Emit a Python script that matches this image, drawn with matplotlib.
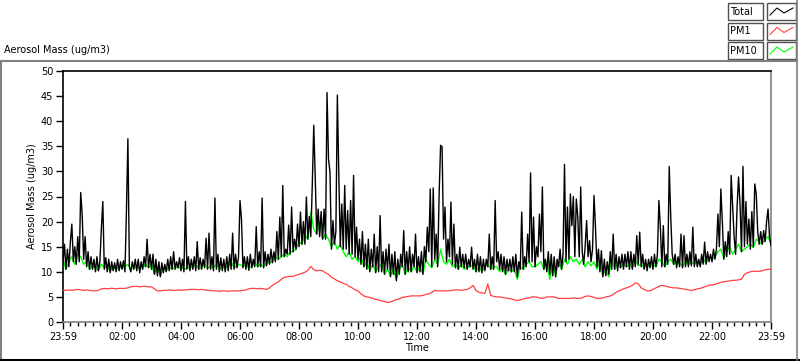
import numpy as np
import matplotlib
matplotlib.use("Agg")
import matplotlib.pyplot as plt
from matplotlib.lines import Line2D
from matplotlib.patches import Rectangle

plt.rcParams['font.family'] = ['DejaVu Sans']

# ---- data: Total sampled every 3 minutes, PM10/PM1 every 6 minutes (hours since 23:59) ----
total = [
    12, 15.5, 10.5, 14.5, 11, 16, 19.5, 12, 15, 11.5, 17, 12, 25.8, 21.4, 12.5, 17, 11, 14, 10.5, 13,
    10.5, 12.5, 10, 13, 10.2, 12, 18.5, 24, 10.5, 12.8, 10, 12.5, 9.8, 12, 10.2, 11.8, 10, 12.5, 10.2, 12,
    10.5, 12.2, 10, 22, 36.5, 11, 10, 12, 10.5, 12.5, 10.2, 12.5, 9.8, 12, 10.5, 13, 11, 16.5, 10.8, 13.5,
    10.5, 13.5, 9.5, 12.5, 9.2, 12, 9, 11.8, 9.8, 11.5, 10, 12.5, 10.2, 13, 10.5, 14, 10.5, 12, 10.8, 12.8,
    10.2, 12.5, 10, 24, 10.5, 13, 10.2, 12.5, 10.5, 13, 10.2, 16, 10.5, 12.8, 10.5, 12.5, 10.8, 16.7, 10.5, 17.7,
    10.5, 13, 10.2, 24.7, 10.5, 13.5, 10, 12.8, 10.2, 12.5, 10, 13, 10.2, 13.5, 10.5, 17.7, 10.5, 13.5, 10.8, 13,
    24.2, 20.5, 10.8, 13, 10.5, 13, 10.3, 13.5, 10.8, 12.5, 11, 19, 11, 14, 11, 24.7, 10.8, 14, 11.2, 13.5,
    11.5, 14.5, 11.8, 14, 12, 18, 12.5, 20.9, 13, 27.2, 13, 14.5, 13.5, 19.3, 13.5, 22.9, 14, 16.5, 14.5, 19.5,
    15, 21.9, 15.5, 20, 15.5, 24.9, 16.5, 21, 17, 27.2, 39.2, 28.9, 17.5, 22.5, 17, 22, 16.5, 22.5, 16.5, 45.7,
    32.5, 29.9, 14.5, 20.2, 15.5, 18, 45.2, 29.2, 15, 23.5, 14.5, 27.2, 14.5, 22.2, 13.5, 24.2, 13.5, 29.2, 13, 18.9,
    12.5, 16.5, 11.5, 18, 11, 15.5, 10.5, 16.5, 10, 14.5, 11, 17.5, 9.8, 15, 10, 21.2, 10, 14, 9.5, 14.5,
    10.5, 15.5, 9, 13.5, 9.5, 14, 8.2, 12.5, 9.5, 13.5, 11, 18.2, 9.5, 14, 10, 15, 10, 13.5, 11, 17.5,
    9.8, 13, 10, 14, 9.5, 15, 12, 18.9, 14, 26.5, 11, 26.7, 12.5, 17.5, 11, 25.5, 35.2, 34.9, 16.5, 22.9,
    12, 16.5, 13, 23.9, 11.5, 19.5, 10.8, 13.5, 10.5, 14.9, 11, 13.5, 10.8, 13.5, 10.5, 12.5, 11, 14.9, 10.5, 12.5,
    10, 13.5, 10, 13, 9.8, 12.5, 10.2, 12.5, 11, 17.5, 10.5, 13, 10.5, 24.2, 12, 14, 10.5, 13.5, 10, 13,
    9.5, 12.5, 10.2, 12.5, 10, 13, 10, 13.5, 9, 12, 10.5, 21.9, 10.5, 13, 11, 17.5, 12, 29.7, 12, 20.9,
    11, 15, 13, 21.5, 14, 26.9, 10.5, 12.5, 10, 14, 9.5, 13.5, 9.2, 13, 9, 12.5, 11, 14.5, 10.5, 13.5,
    31.4, 12, 22.9, 12.5, 25.5, 19.2, 25, 13, 24.5, 20.9, 13, 26.9, 14, 11.5, 15, 20.2, 13, 16.2, 12, 14.5,
    25.2, 18.9, 11, 14.5, 10, 14.2, 9, 12.5, 9.2, 12, 9.5, 14, 10.5, 17.5, 10.5, 13.5, 10.2, 13, 10.8, 13.5,
    10.5, 13.5, 11, 14, 10.5, 14, 10.5, 13.5, 11, 17.2, 11.5, 17.9, 11, 13.5, 10.5, 12.5, 10.2, 12.5, 10.8, 13,
    10.5, 13.5, 11, 13.5, 24.2, 18.9, 11, 19.2, 11, 13.5, 11.5, 31, 21.2, 13.5, 11.5, 13.5, 10.8, 13, 11, 17.5,
    10.8, 17.2, 11, 13.5, 11, 14, 11.2, 18.9, 11, 13.5, 11, 12.5, 11, 13.5, 11.5, 15.9, 11.5, 14, 12, 13.5,
    12, 14.5, 12.5, 14.5, 21.5, 15, 26.5, 20, 12.5, 16, 13, 18, 13.5, 29.2, 22.9, 17, 13.5, 22.9, 28.9, 23.5,
    14, 31, 15, 24, 15.5, 20.5, 14.5, 22, 15, 27.5, 25.5, 18, 15.5, 18, 15.5, 18.2, 16, 20, 22.5, 17,
    15.2,
]

pm10 = [
    12.5, 10.5, 12, 13, 11.5, 13.5, 13, 11.5, 12, 10.5,
    11, 10.8, 10.3, 11.5, 10.8, 11, 10.2, 10.8, 10.5, 11,
    10.8, 11, 11.5, 10.5, 11, 10.8, 11, 10.8, 11.5, 10.8,
    11.5, 9.5, 11, 9.2, 10.8, 10.2, 11, 10.5, 11, 10.8,
    11, 10.5, 10.8, 10.8, 11, 11.5, 10.5, 11, 11.5, 10.8,
    11, 10.8, 11.5, 10.5, 11, 10.8, 11, 12, 10.8, 11.2,
    11.5, 11, 11.5, 10.8, 11, 12, 11, 11.5, 11, 11.8,
    11.8, 12, 13, 12.5, 13, 13.5, 13, 14, 14, 14.5,
    16, 15.5, 17.5, 16.5, 21.9, 18.5, 17.5, 20, 16.5, 17.5,
    16.5, 15, 16, 14.5, 15.5, 14, 13, 14, 12.5, 13,
    12, 13, 11, 12, 10.2, 11.5, 10, 11, 11.5, 9.5,
    10.5, 9.2, 10.5, 8.5, 10.5, 11.5, 9.5, 11, 10, 11,
    10, 11, 9.5, 12.5, 11.5, 10.8, 12.5, 11.5, 14.5, 12,
    11.5, 12.5, 11, 11.5, 10.5, 11.5, 10.5, 11, 11, 11.5,
    10, 11, 10, 11, 11.5, 10.5, 11, 11, 10, 11,
    9.5, 10.5, 10, 10.5, 8.5, 11, 10.5, 11.5, 12, 11,
    11, 11.5, 12, 10.5, 12, 8.5, 11.5, 9.2, 12, 10.5,
    12.5, 11.5, 13, 12, 12.5, 11.5, 12.5, 11, 12, 11.2,
    12, 10.5, 12, 9.2, 10.5, 9, 12.5, 10.5, 11.5, 10.8,
    11.5, 11, 11.5, 10.8, 12.5, 11.2, 11.5, 10.8, 11.5, 11,
    11.5, 11, 12.5, 12, 11, 12, 12.5, 11.5, 12, 11.8,
    11, 12, 11.5, 12, 11.5, 12, 11.5, 12.5, 11.8, 13,
    12.5, 13, 14, 14.5, 12.8, 14, 15, 13.5, 14.5, 15.5,
    14, 14.5, 15, 15.5, 14.8, 16.5, 16, 15.5, 16.5, 17,
    15.5,
]

pm1 = [
    6.3, 6.3, 6.4, 6.3, 6.4, 6.5, 6.4, 6.3, 6.4, 6.3,
    6.2, 6.2, 6.3, 6.6, 6.7, 6.6, 6.7, 6.7, 6.6, 6.7,
    6.7, 6.7, 6.8, 7.0, 7.1, 7.1, 7.0, 7.1, 7.1, 7.0,
    7.0, 6.6, 6.2, 6.2, 6.3, 6.3, 6.4, 6.3, 6.3, 6.4,
    6.3, 6.4, 6.4, 6.5, 6.5, 6.5, 6.4, 6.5, 6.4, 6.3,
    6.3, 6.2, 6.2, 6.1, 6.2, 6.2, 6.1, 6.2, 6.2, 6.2,
    6.2, 6.3, 6.4, 6.6, 6.7, 6.7, 6.6, 6.7, 6.6, 6.5,
    6.8, 7.3, 7.7, 8.0, 8.5, 8.9, 9.0, 9.1, 9.1, 9.3,
    9.5, 9.7, 9.9, 10.3, 11.1, 10.4, 10.2, 10.3, 10.2, 9.8,
    9.5, 8.9, 8.6, 8.2, 8.0, 7.7, 7.5, 7.1, 6.8, 6.4,
    6.2, 5.6, 5.2, 5.0, 4.9, 4.7, 4.5, 4.4, 4.2, 4.1,
    3.9, 4.0, 4.2, 4.5, 4.6, 4.9, 5.0, 5.1, 5.2, 5.2,
    5.2, 5.2, 5.3, 5.5, 5.6, 5.9, 6.3, 6.2, 6.2, 6.2,
    6.2, 6.2, 6.3, 6.4, 6.4, 6.3, 6.4, 6.5, 6.8, 7.3,
    6.3, 5.9, 5.8, 5.7, 7.6, 5.3, 5.1, 5.0, 5.0, 4.9,
    4.8, 4.7, 4.6, 4.4, 4.3, 4.4, 4.6, 4.7, 4.8, 5.0,
    5.0, 4.9, 4.7, 4.8, 5.0, 5.0, 5.0, 4.9, 4.7, 4.7,
    4.7, 4.7, 4.7, 4.8, 4.7, 4.7, 4.8, 5.1, 5.2, 5.1,
    4.9, 4.7, 4.7, 4.8, 5.0, 5.1, 5.3, 5.7, 6.1, 6.3,
    6.6, 6.8, 7.0, 7.3, 7.8, 7.6, 6.8, 6.5, 6.2, 6.2,
    6.5, 6.8, 7.1, 7.3, 7.2, 7.0, 6.9, 6.8, 6.8, 6.7,
    6.6, 6.5, 6.4, 6.3, 6.4, 6.6, 6.7, 6.9, 7.1, 7.3,
    7.4, 7.5, 7.7, 7.9, 8.0, 8.1, 8.2, 8.3, 8.3, 8.4,
    8.5, 9.5, 9.8, 10.0, 10.1, 10.1, 10.1, 10.2, 10.4, 10.5,
    10.5,
]

xtick_pos = [0, 2, 4, 6, 8, 10, 12, 14, 16, 18, 20, 22, 24]
xtick_labels = ['23:59', '02:00', '04:00', '06:00', '08:00', '10:00', '12:00',
                '14:00', '16:00', '18:00', '20:00', '22:00', '23:59']
series_names = ['Total', 'PM1', 'PM10']
series_colors = ['#000000', '#ff4040', '#00ff00']

t_total = np.linspace(0, 24, len(total))
t_pm10 = np.linspace(0, 24, len(pm10))
t_pm1 = np.linspace(0, 24, len(pm1))

W, H = 800, 361
fig = plt.figure(figsize=(W / 100, H / 100), dpi=100)
fig.patch.set_facecolor('white')

def fx(px):
    return px / W

def fy(py):
    return 1 - py / H

ax = fig.add_axes([fx(63), fy(322), (771 - 63) / W, (322 - 71) / H])
ax.plot(t_pm10, pm10, color=series_colors[2], lw=1.0, zorder=2)
ax.plot(t_pm1, pm1, color=series_colors[1], lw=0.9, zorder=3)
ax.plot(t_total, total, color=series_colors[0], lw=1.0, zorder=4)

ax.set_xlim(0, 24)
ax.set_ylim(0, 50)
ax.set_yticks(range(0, 51, 5))
ax.set_xticks(xtick_pos)
ax.set_xticklabels(xtick_labels)
ax.set_xticks([k * 0.25 for k in range(1, 96) if k % 8 != 0], minor=True)
ax.tick_params(axis='both', which='major', direction='out', length=5, width=1,
               labelsize=7, color='black', pad=2)
ax.tick_params(axis='x', which='minor', direction='out', length=3, width=1, color='black')
ax.set_xlabel('Time', fontsize=7, labelpad=1)
ax.set_ylabel('Aerosol Mass (ug/m3)', fontsize=7, labelpad=3)
for s in ['left', 'top']:
    ax.spines[s].set_color('black')
    ax.spines[s].set_linewidth(1.2)
for s in ['right', 'bottom']:
    ax.spines[s].set_color('#808080')
    ax.spines[s].set_linewidth(1.2)

# outer frame
fig.add_artist(Line2D([fx(0), fx(797)], [fy(61), fy(61)], transform=fig.transFigure, color='#808080', lw=1.5))
fig.add_artist(Line2D([fx(1), fx(1)], [fy(61), fy(360)], transform=fig.transFigure, color='#808080', lw=1.5))
fig.add_artist(Line2D([fx(0), fx(800)], [fy(360), fy(360)], transform=fig.transFigure, color='black', lw=1.5))
fig.add_artist(Line2D([fx(797), fx(797)], [fy(0), fy(360)], transform=fig.transFigure, color='#808080', lw=1.2))

fig.text(fx(4), fy(50), 'Aerosol Mass (ug/m3)', fontsize=7, va='center', ha='left')

# legend boxes
for i, (name, col) in enumerate(zip(series_names, series_colors)):
    top = 3 + i * 19.5
    fig.add_artist(Rectangle((fx(728), fy(top + 17)), 35 / W, 17 / H, transform=fig.transFigure,
                             facecolor='white', edgecolor='#505050', lw=1))
    fig.text(fx(730), fy(top + 9), name, fontsize=7, va='center', ha='left')
    fig.add_artist(Rectangle((fx(767), fy(top + 17)), 29 / W, 17 / H, transform=fig.transFigure,
                             facecolor='white', edgecolor='#505050', lw=1))
    sx = [770, 777, 784, 793]
    sy = [top + 12, top + 5, top + 10, top + 5]
    fig.add_artist(Line2D([fx(v) for v in sx], [fy(v) for v in sy], transform=fig.transFigure,
                          color=col, lw=0.8))

fig.savefig('out.png', dpi=100)
